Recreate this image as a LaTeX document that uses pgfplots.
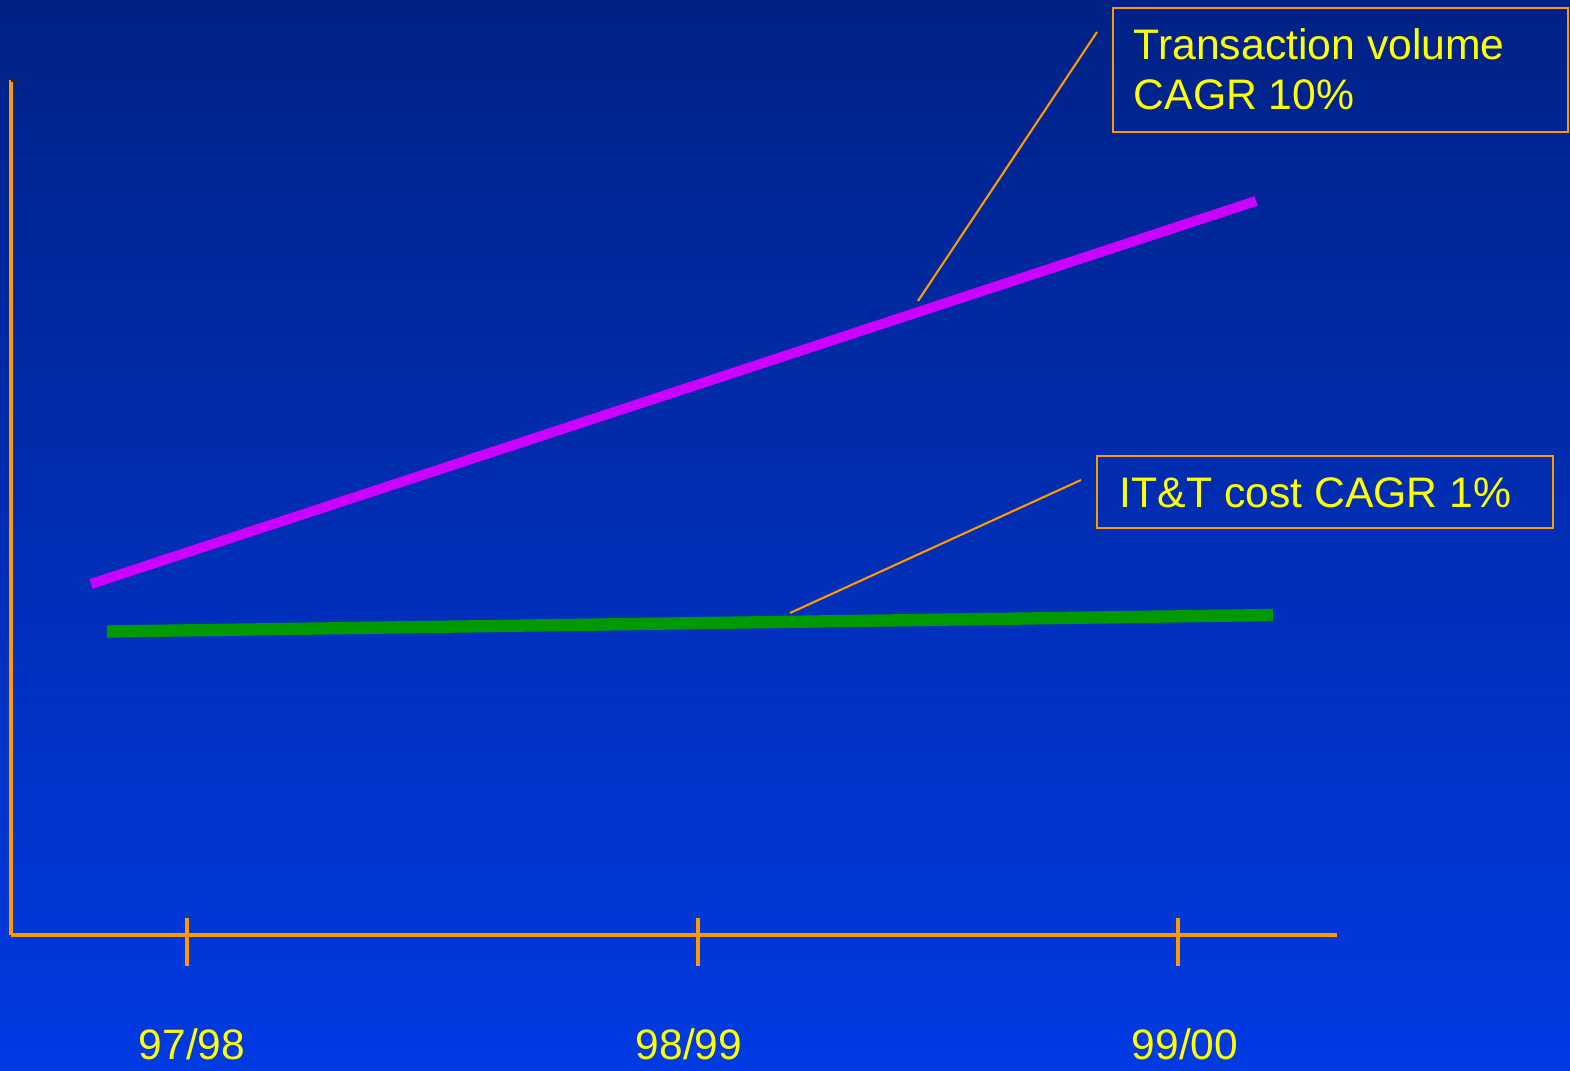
\documentclass[border=0pt]{standalone}
\usepackage{fontspec}
\setmainfont{Liberation Sans}
\usepackage{pgfplots}
\pgfplotsset{compat=1.18}
\definecolor{bgtop}{RGB}{0,34,134}
\definecolor{bgbot}{RGB}{0,58,226}
\definecolor{axorange}{RGB}{255,153,0}
\definecolor{lnpurple}{RGB}{204,0,255}
\definecolor{lngreen}{RGB}{0,153,0}
\definecolor{txtyellow}{RGB}{255,255,0}
\begin{document}
\begin{tikzpicture}
\shade[top color=bgtop, bottom color=bgbot] (0,0) rectangle (15.7,10.7);
\begin{axis}[
  at={(0.11cm,1.35cm)}, anchor=south west,
  scale only axis, width=13.26cm, height=8.55cm,
  xmin=11, xmax=1337, ymin=0, ymax=85.5,
  axis x line=bottom, axis y line=left,
  axis line style={draw=axorange, line width=1pt, -},
  xtick={187,698,1178},
  xticklabels={\hspace*{0.1cm}97/98, 98/99\kern0.18cm\null, \hspace*{0.14cm}99/00},
  ytick=\empty,
  major tick length=0.48cm, tick align=center,
  xtick style={draw=axorange, line width=1pt, yshift=-0.07cm},
  xticklabel style={text=txtyellow, font=\fontsize{12.1}{14}\selectfont, anchor=base, yshift=-1.0cm},
  clip=false,
]
\addplot[lnpurple, line width=2.85pt, line cap=butt] coordinates {(91,35.1) (1256,73.4)};
\addplot[lngreen, line width=3.5pt, line cap=butt] coordinates {(107,30.35) (1273,32.0)};
\end{axis}
\fill[black!85] (0.11,9.91) rectangle (0.17,9.88);
% annotation boxes
\draw[axorange, line width=0.75pt] (11.13,10.62) rectangle (15.68,9.38);
\node[anchor=base west, inner sep=0pt, text=txtyellow, font=\fontsize{12.15}{14}\selectfont] at (11.33,10.10) {Transaction volume};
\node[anchor=base west, inner sep=0pt, text=txtyellow, font=\fontsize{12.15}{14}\selectfont] at (11.33,9.60) {CAGR 10\%};
\draw[axorange, line width=0.6pt] (10.97,10.38) -- (9.18,7.69);
\draw[axorange, line width=0.75pt] (10.97,6.14) rectangle (15.53,5.42);
\node[anchor=base west, inner sep=0pt, text=txtyellow, font=\fontsize{12.15}{14}\selectfont] at (11.19,5.63) {IT\&T cost CAGR 1\%};
\draw[axorange, line width=0.6pt] (10.81,5.90) -- (7.90,4.57);
\pgfresetboundingbox
\path[use as bounding box] (0,0) rectangle (15.7,10.7);
\end{tikzpicture}
\end{document}
